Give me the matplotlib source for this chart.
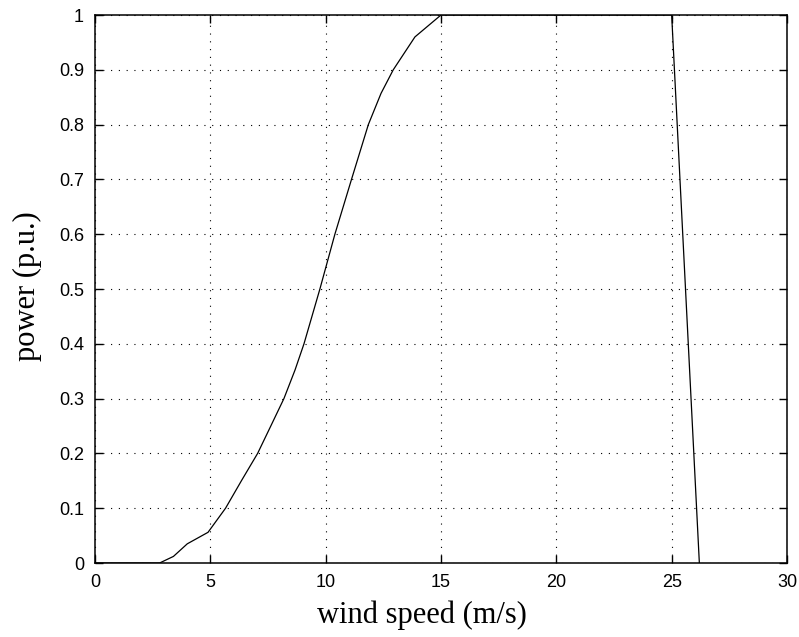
import matplotlib
matplotlib.use("Agg")
import matplotlib.pyplot as plt


# power curve (wind speed in m/s, power in p.u.)
wind_speed = [0, 2.8, 3.4, 4.0, 4.9, 5.66, 6.36, 7.05, 7.61, 8.19, 8.67, 9.06,
              9.75, 10.4, 11.12, 11.85, 12.4, 12.93, 13.87, 15.0, 25.0, 26.2]
power = [0, 0, 0.012, 0.035, 0.056, 0.1, 0.151, 0.2, 0.249, 0.3, 0.352, 0.4,
         0.5, 0.6, 0.7, 0.8, 0.857, 0.9, 0.96, 1.0, 1.0, 0.0]

x_ticks = [0, 5, 10, 15, 20, 25, 30]
y_ticks = [0, 0.1, 0.2, 0.3, 0.4, 0.5, 0.6, 0.7, 0.8, 0.9, 1]
y_tick_labels = ["0", "0.1", "0.2", "0.3", "0.4", "0.5", "0.6", "0.7", "0.8", "0.9", "1"]


def main():
    fig = plt.figure(figsize=(7.99, 6.37), dpi=100)
    ax = fig.add_axes([95 / 799, 1 - 563 / 637, (787 - 95) / 799, (563 - 15) / 637])

    ax.plot(wind_speed, power, color="black", linewidth=0.9, zorder=3)

    ax.set_xlim(0, 30)
    ax.set_ylim(0, 1)
    ax.set_xticks(x_ticks)
    ax.set_yticks(y_ticks)
    ax.set_yticklabels(y_tick_labels)

    ax.grid(True, color="black", linestyle=(0, (1, 6)), linewidth=0.8)
    ax.tick_params(direction="in", length=6, width=1, top=True, right=True,
                   labelsize=13, pad=8)
    for label in ax.get_xticklabels() + ax.get_yticklabels():
        label.set_fontfamily("Liberation Sans")
    for spine in ax.spines.values():
        spine.set_linewidth(1.1)

    ax.set_xlabel("wind speed (m/s)", fontsize=22, fontfamily="Liberation Serif")
    ax.set_ylabel("power (p.u.)", fontsize=22, fontfamily="Liberation Serif")
    # matlab puts the x label a bit left of the axes centre
    ax.xaxis.set_label_coords(0.473, -0.068)
    ax.yaxis.set_label_coords(-0.077, 0.505)

    fig.savefig("out.png", dpi=100, facecolor="white")


if __name__ == "__main__":
    main()
